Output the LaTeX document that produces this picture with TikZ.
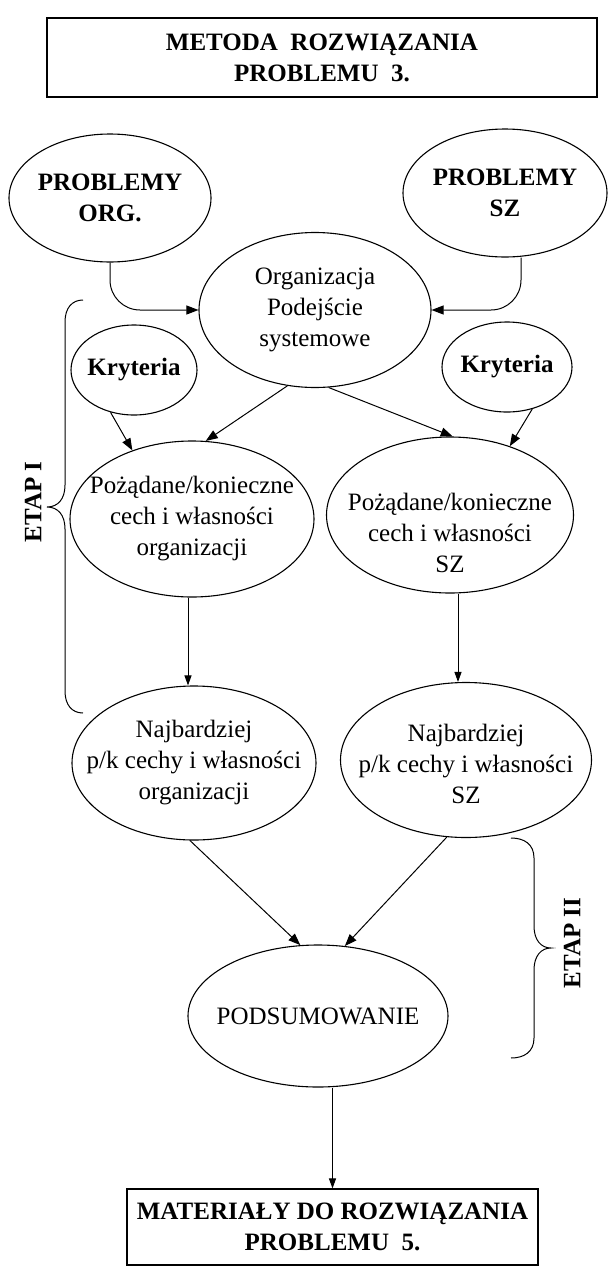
\documentclass[tikz,border=0pt]{standalone}
\usepackage{fontspec}
\setmainfont{Liberation Serif}
\usetikzlibrary{shapes.geometric,arrows.meta}
\begin{document}
\begin{tikzpicture}[x=1pt,y=-1pt,
  ell/.style={draw,ellipse,line width=1.1pt,inner sep=0pt},
  txt/.style={align=center,inner sep=0pt,font=\fontsize{25}{31}\selectfont},
  btxt/.style={align=center,inner sep=0pt,font=\fontsize{25}{31}\selectfont\bfseries},
  bx/.style={draw,rectangle,line width=1.1pt,inner sep=0pt,align=center,font=\fontsize{25}{31}\selectfont\bfseries},
  conn/.style={line width=1pt,-{Triangle[length=12pt,width=9pt]}},
  vconn/.style={line width=1pt,-{Triangle[length=10pt,width=7pt]}},
  bracepath/.style={line width=1pt},
  etap/.style={rotate=90,inner sep=0pt,font=\fontsize{25}{31}\selectfont\bfseries}]
\useasboundingbox (0,0) rectangle (608,1267);

% boxes
\node[bx,minimum width=550pt,minimum height=79pt] (top) at (322,57.5) {METODA\ \ ROZWIĄZANIA\\PROBLEMU\ \ 3.};
\node[bx,minimum width=411pt,minimum height=76pt] (bot) at (332.5,1227) {MATERIAŁY DO ROZWIĄZANIA\\PROBLEMU\ \ 5.};

% ellipses
\node[ell,minimum width=202pt,minimum height=128pt,label={[btxt]center:{PROBLEMY\\ORG.}}] (org) at (110,198) {};
\node[ell,minimum width=204pt,minimum height=128pt,label={[btxt]center:{PROBLEMY\\SZ}}] (sz) at (505,193) {};
\node[ell,minimum width=232pt,minimum height=155pt,label={[txt]center:{Organizacja\\Podejście\\systemowe}}] (orgz) at (315,310) {};
\node[ell,minimum width=126pt,minimum height=90pt,label={[btxt]center:{Kryteria}}] (krl) at (134,370) {};
\node[ell,minimum width=130pt,minimum height=90pt,label={[btxt]center:{Kryteria}}] (krr) at (507,367) {};
\node[ell,minimum width=244pt,minimum height=156pt,label={[txt]center:{Pożądane/konieczne\\cech i własności\\organizacji}}] (pozl) at (192,519) {};
\node[ell,minimum width=247pt,minimum height=156pt,label={[txt,yshift=-18pt]center:{Pożądane/konieczne\\cech i własności\\SZ}}] (pozr) at (450,515) {};
\node[ell,minimum width=244pt,minimum height=154pt,label={[txt]center:{Najbardziej\\p/k cechy i własności\\organizacji}}] (najl) at (194,763) {};
\node[ell,minimum width=251pt,minimum height=155pt,label={[txt,yshift=-4pt]center:{Najbardziej\\p/k cechy i własności\\SZ}}] (najr) at (466,760) {};
\node[ell,minimum width=260pt,minimum height=142pt,label={[txt]center:{PODSUMOWANIE}}] (pods) at (318,1016) {};

% connectors
\draw[conn,rounded corners=30pt] (org.south) |- (orgz.west);
\draw[conn,rounded corners=30pt] ([xshift=16pt]sz.south) |- (orgz.east);
\draw[conn] (krl.-119) -- (pozl.131);
\draw[conn] (krr.-59) -- (pozr.49);
\draw[conn] (orgz.-110) -- (pozl.80);
\draw[conn] (orgz.-80) -- (pozr.88);
\draw[vconn] ([xshift=-4pt]pozl.south) -- ([xshift=-4pt]pozl.south |- najl.north);
\draw[vconn] ([xshift=8pt]pozr.south) -- ([xshift=8pt]pozr.south |- najr.north);
\draw[conn] (najl.-93) -- (pods.104);
\draw[conn] (najr.-104) -- (pods.69);
\draw[vconn] (bot.north |- pods.south) -- (bot.north);

% braces
\draw[bracepath] (83,300) .. controls (72,300) and (65,308) .. (65,322) -- (65,485)
  .. controls (65,499) and (58,507) .. (47,507)
  .. controls (58,507) and (65,515) .. (65,529) -- (65,691)
  .. controls (65,705) and (72,713) .. (83,713);
\draw[bracepath] (511,838) .. controls (524,838) and (534,844) .. (534,858) -- (534,926)
  .. controls (534,940) and (541,948) .. (551,948)
  .. controls (541,948) and (534,956) .. (534,970) -- (534,1038)
  .. controls (534,1052) and (524,1058) .. (511,1058);

\node[etap] (etap1) at (33,502) {ETAP I};
\node[etap] (etap2) at (572,943) {ETAP II};
\end{tikzpicture}
\end{document}
